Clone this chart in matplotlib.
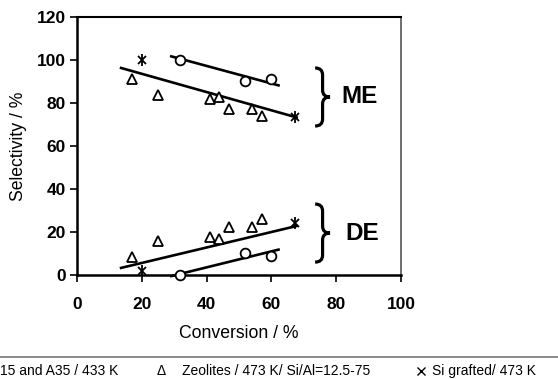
import matplotlib
matplotlib.use("Agg")
import matplotlib.pyplot as plt
import numpy as np
from matplotlib.path import Path
from matplotlib.patches import PathPatch

plt.rcParams['font.family'] = ['Liberation Sans', 'DejaVu Sans']

# data (conversion %, selectivity %)
zeo_conv = [17.1, 25.1, 41.0, 43.9, 46.9, 54.0, 57.1]
zeo_me = [91.3, 83.9, 81.7, 82.8, 77.2, 77.2, 74.0]
zeo_de = [8.4, 15.8, 17.8, 16.9, 22.3, 22.3, 26.2]

meso_conv = [31.9, 51.9, 60.0]
meso_me = [100.0, 90.1, 91.2]
meso_de = [0.0, 10.2, 8.8]

graft_conv = [20.1, 67.4]
graft_me = [100.0, 73.6]
graft_de = [2.0, 24.3]

# trend lines (end points)
trend_zeo_x = [13.6, 67.8]
trend_zeo_me = [96.3, 73.3]
trend_zeo_de = [3.3, 22.8]
trend_meso_x = [29.1, 62.2]
trend_meso_me = [101.7, 88.2]
trend_meso_de = [-0.5, 11.8]

xticks = [0, 20, 40, 60, 80, 100]
yticks = [0, 20, 40, 60, 80, 100, 120]

fig = plt.figure(figsize=(5.58, 3.79), dpi=100)
ax = fig.add_axes([0.138, 0.2744, 0.5806, 0.6807])

ax.set_xlim(0, 100)
ax.set_ylim(0, 120)

lw = 1.9
for y in (trend_zeo_me, trend_zeo_de):
    ax.plot(trend_zeo_x, y, color='black', lw=lw, clip_on=False)
for y in (trend_meso_me, trend_meso_de):
    ax.plot(trend_meso_x, y, color='black', lw=lw, clip_on=False)

for y in (zeo_me, zeo_de):
    ax.plot(zeo_conv, y, ls='none', marker='^', ms=7, mfc='white', mec='black',
            mew=1.3, clip_on=False, zorder=3)
for y in (meso_me, meso_de):
    ax.plot(meso_conv, y, ls='none', marker='o', ms=7, mfc='white', mec='black',
            mew=1.3, clip_on=False, zorder=3)
for y in (graft_me, graft_de):
    ax.plot(graft_conv, y, ls='none', marker='x', ms=6, mec='black', mew=1.3,
            clip_on=False, zorder=3)
    ax.plot(graft_conv, y, ls='none', marker='|', ms=8, mec='black', mew=1.3,
            clip_on=False, zorder=3)


def brace(x0, ybot, ytop, w):
    mid = (ybot + ytop) / 2
    r = (ytop - ybot) * 0.12
    xm = x0 + w * 0.5
    verts = [(x0, ytop), (xm, ytop), (xm, ytop - r),
             (xm, mid + r),
             (xm, mid), (x0 + w, mid),
             (xm, mid), (xm, mid - r),
             (xm, ybot + r),
             (xm, ybot), (x0, ybot)]
    codes = [Path.MOVETO, Path.CURVE3, Path.CURVE3,
             Path.LINETO,
             Path.CURVE3, Path.CURVE3,
             Path.CURVE3, Path.CURVE3,
             Path.LINETO,
             Path.CURVE3, Path.CURVE3]
    ax.add_patch(PathPatch(Path(verts, codes), fc='none', ec='black', lw=2.3,
                           clip_on=False))


brace(73.5, 69.3, 96.3, 4.6)
brace(73.5, 6.0, 33.0, 4.6)
ax.text(81.5, 83.0, 'ME', fontsize=17.5, fontweight='bold', va='center', ha='left')
ax.text(82.8, 19.5, 'DE', fontsize=17.5, fontweight='bold', va='center', ha='left')

ax.set_xticks(xticks)
ax.set_yticks(yticks)
ax.tick_params(axis='x', direction='out', length=5, width=1.2, pad=11, labelsize=12.5)
ax.tick_params(axis='y', direction='out', length=5, width=1.2, pad=3, labelsize=12.5)
for lab in ax.get_xticklabels() + ax.get_yticklabels():
    lab.set_fontweight('bold')

ax.spines['left'].set_linewidth(1.8)
ax.spines['bottom'].set_linewidth(1.8)
ax.spines['top'].set_linewidth(1.5)
ax.spines['right'].set_linewidth(1.2)
ax.spines['right'].set_color('#555555')

ax.set_xlabel('Conversion / %', fontsize=12.7, labelpad=9)
ax.set_ylabel('Selectivity / %', fontsize=12.7, labelpad=7)

# legend strip at the bottom, cut off at the figure edge
fig.add_artist(plt.Line2D([0, 1], [1 - 356.5 / 379, 1 - 356.5 / 379],
                          color='#777777', lw=1.2))
ly = 1 - 371 / 379
fs = 10
fig.text(0.0, ly, '15 and A35 / 433 K', fontsize=fs, va='center', ha='left')
fig.text(157 / 558, ly, 'Δ', fontsize=fs, va='center', ha='left')
fig.text(182 / 558, ly, 'Zeolites / 473 K/ Si/Al=12.5-75', fontsize=fs,
         va='center', ha='left')
fig.add_artist(plt.Line2D([420.5 / 558], [ly], transform=fig.transFigure,
                          marker='x', ms=5.5, mec='black', mew=1.0, ls='none'))
fig.text(432 / 558, ly, 'Si grafted/ 473 K', fontsize=fs, va='center', ha='left')

fig.savefig('out.png', dpi=100)
